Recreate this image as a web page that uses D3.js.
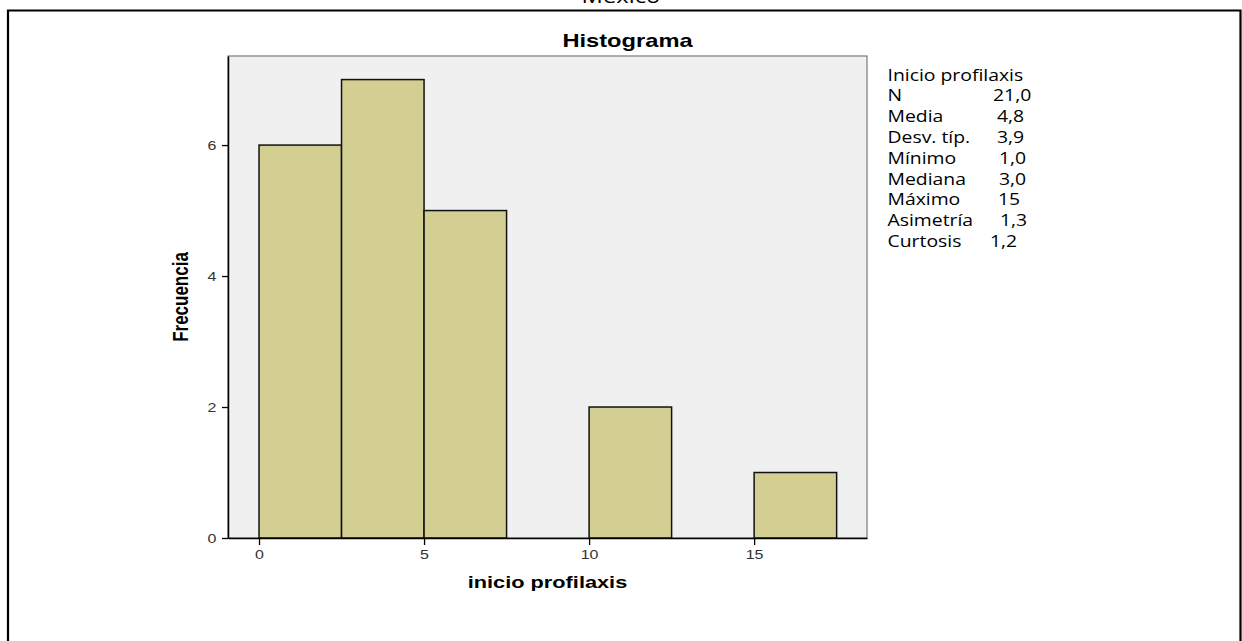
<!DOCTYPE html>
<html>
<head>
<meta charset="utf-8">
<script src="https://cdn.jsdelivr.net/npm/d3@7"></script>
<style>
  html, body { margin: 0; padding: 0; background: #ffffff; }
  svg { display: block; }
</style>
</head>
<body>
<script>
// ---------------- data ----------------
const binStart = [0, 2.5, 5, 10, 15];
const binEnd   = [2.5, 5, 7.5, 12.5, 17.5];
const counts   = [6, 7, 5, 2, 1];
const xTicks = [0, 5, 10, 15];
const yTicks = [0, 2, 4, 6];
const pageTitle = "México";
const chartTitle = "Histograma";
const xLabel = "inicio profilaxis";
const yLabel = "Frecuencia";
const statHeader = "Inicio profilaxis";
const statNames  = ["N", "Media", "Desv. típ.", "Mínimo", "Mediana", "Máximo", "Asimetría", "Curtosis"];
const statValues = ["21,0", "4,8", "3,9", "1,0", "3,0", "15", "1,3", "1,2"];

// ---------------- layout ----------------
const W = 1242, H = 641;
const plot = { left: 228, right: 867, top: 56, bottom: 538 };
const SX = 1.28; // horizontal stretch of the original picture
const valueX = [993, 997, 997, 999, 999, 998, 1000, 990];

const svg = d3.select("body").append("svg").attr("width", W).attr("height", H);

const x = d3.scaleLinear().domain([-0.94, 18.42]).range([plot.left, plot.right]);
const y = d3.scaleLinear().domain([0, 7.36]).range([plot.bottom, plot.top]);

function stext(parent, tx, ty, str, opts) {
  const t = parent.append("text")
    .attr("transform", `translate(${tx},${ty}) scale(${opts.sx || SX},1)` + (opts.rotate ? ` rotate(${opts.rotate})` : ""))
    .attr("text-anchor", opts.anchor || "start")
    .style("font-family", opts.family || "'Liberation Sans', Arial, sans-serif")
    .style("font-size", opts.size + "px")
    .style("font-weight", opts.weight || "normal")
    .attr("fill", opts.fill || "#000")
    .text(str);
  return t;
}

// outer frame
svg.append("path")
  .attr("d", `M8,${H} L8,10.5 L1240.5,10.5 L1240.5,${H}`)
  .attr("fill", "none").attr("stroke", "#000").attr("stroke-width", 2.2);

// page title (cut off at top)
stext(svg, 621, 3, pageTitle, { size: 19, anchor: "middle", family: "'Open Sans', 'Noto Sans', sans-serif", sx: 1.25 });

// plot background
svg.append("rect")
  .attr("x", plot.left).attr("y", plot.top)
  .attr("width", plot.right - plot.left).attr("height", plot.bottom - plot.top)
  .attr("fill", "#f0f0f1").attr("stroke", "#7a7a7a").attr("stroke-width", 1.2);

// bars
svg.append("g").selectAll("rect")
  .data(counts.map((c, i) => ({ x0: binStart[i], x1: binEnd[i], c })))
  .join("rect")
  .attr("x", d => x(d.x0))
  .attr("y", d => y(d.c))
  .attr("width", d => x(d.x1) - x(d.x0))
  .attr("height", d => y(0) - y(d.c))
  .attr("fill", "#d3cf93")
  .attr("stroke", "#111")
  .attr("stroke-width", 1.5);

// axes
const yAxis = svg.append("g")
  .attr("transform", `translate(${plot.left},0)`)
  .call(d3.axisLeft(y).tickValues(yTicks).tickSize(6).tickSizeOuter(0).tickPadding(3).tickFormat(d3.format("d")));
const xAxis = svg.append("g")
  .attr("transform", `translate(0,${plot.bottom})`)
  .call(d3.axisBottom(x).tickValues(xTicks).tickSize(7).tickSizeOuter(0).tickPadding(5).tickFormat(d3.format("d")));

[yAxis, xAxis].forEach(g => {
  g.select(".domain").attr("stroke", "#000").attr("stroke-width", 1.5);
  g.selectAll(".tick line").attr("stroke", "#000").attr("stroke-width", 1.3);
  g.selectAll(".tick text")
    .style("font-family", "'Liberation Sans', Arial, sans-serif")
    .style("font-size", "12.5px")
    .attr("fill", "#333");
});
yAxis.selectAll(".tick text").attr("transform", `scale(${SX},1)`);
xAxis.selectAll(".tick text").attr("transform", `scale(${SX},1)`);

// titles
stext(svg, 627.5, 47, chartTitle, { size: 18.5, weight: "bold", anchor: "middle" });
stext(svg, 547.5, 588, xLabel, { size: 17, weight: "bold", anchor: "middle" });
stext(svg, 188, 297, yLabel, { size: 17, weight: "bold", anchor: "middle", rotate: -90 });

// statistics box
const statFont = "'Open Sans', 'Noto Sans', sans-serif";
stext(svg, 887.5, 80.5, statHeader, { size: 15.5, family: statFont, sx: 1.25 });
statNames.forEach((n, i) => {
  const by = 80.5 + (i + 1) * 20.8;
  stext(svg, 887.5, by, n, { size: 15.5, family: statFont, sx: 1.25 });
  stext(svg, valueX[i], by, statValues[i], { size: 15.5, family: statFont, sx: 1.25 });
});
</script>
</body>
</html>
